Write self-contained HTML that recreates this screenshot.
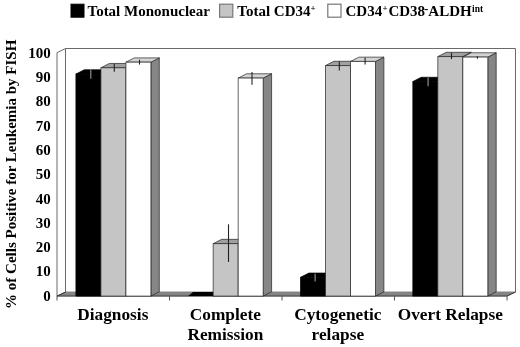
<!DOCTYPE html>
<html><head><meta charset="utf-8"><title>FISH chart</title>
<style>html,body{margin:0;padding:0;background:#fff;}svg{display:block;}text{font-family:"Liberation Serif",serif;font-weight:bold;fill:#000;}</style>
</head><body>
<svg width="520" height="347" viewBox="0 0 520 347">
<rect width="520" height="347" fill="#fff"/>
<g stroke="#6a6a6a" stroke-width="1" stroke-linejoin="round">
<polygon fill="#fff" points="65.5,48.5 515.5,48.5 515.5,292.1 65.5,292.1"/>
<polygon fill="#fff" points="57,52.7 65.5,48.5 65.5,292.1 57,296.1"/>
<polygon fill="#858585" stroke="none" points="57,296.1 65.5,292.1 515.5,292.1 507,296.1"/>
<polyline fill="none" stroke="#333" points="65.5,292.1 57,296.1 507,296.1 515.5,292.1"/>
</g>
<g stroke="#555" stroke-width="1">
<line x1="57" y1="296.1" x2="57" y2="300.5"/>
<line x1="169.5" y1="296.1" x2="169.5" y2="300.5"/>
<line x1="282" y1="296.1" x2="282" y2="300.5"/>
<line x1="394.5" y1="296.1" x2="394.5" y2="300.5"/>
<line x1="507" y1="296.1" x2="507" y2="300.5"/>
</g>
<g stroke="#222" stroke-width="0.7" stroke-linejoin="round">
<polygon fill="#000000" points="100.9,74.06 109.3,69.76 109.3,291.8 100.9,296.1"/>
<polygon fill="#606060" points="125.9,67.76 134.3,63.46 134.3,291.8 125.9,296.1"/>
<polygon fill="#868686" points="150.9,62.18 159.3,57.88 159.3,291.8 150.9,296.1"/>
<polygon fill="#000000" stroke="#000" points="75.9,74.06 84.3,69.76 109.3,69.76 100.9,74.06"/>
<rect fill="#000000" stroke="#000" x="75.9" y="74.06" width="25" height="222.04"/>
<polygon fill="#a0a0a0" points="100.9,67.76 109.3,63.46 134.3,63.46 125.9,67.76"/>
<rect fill="#c5c5c5" x="100.9" y="67.76" width="25" height="228.34"/>
<polygon fill="#d4d4d4" points="125.9,62.18 134.3,57.88 159.3,57.88 150.9,62.18"/>
<rect fill="#ffffff" x="125.9" y="62.18" width="25" height="233.92"/>
<polygon fill="#000000" points="213.2,295.44 221.6,291.14 221.6,291.8 213.2,296.1"/>
<polygon fill="#606060" points="238.2,243.64 246.6,239.34 246.6,291.8 238.2,296.1"/>
<polygon fill="#868686" points="263.2,78.07 271.6,73.77 271.6,291.8 263.2,296.1"/>
<polygon fill="#000" stroke="none" points="188.2,296 193,292 213.2,292 213.2,296"/>
<polygon fill="#a0a0a0" points="213.2,243.64 221.6,239.34 246.6,239.34 238.2,243.64"/>
<rect fill="#c5c5c5" x="213.2" y="243.64" width="25" height="52.46"/>
<polygon fill="#d4d4d4" points="238.2,78.07 246.6,73.77 271.6,73.77 263.2,78.07"/>
<rect fill="#ffffff" x="238.2" y="78.07" width="25" height="218.03"/>
<polygon fill="#000000" points="325.5,277.36 333.9,273.06 333.9,291.8 325.5,296.1"/>
<polygon fill="#606060" points="350.5,65.57 358.9,61.27 358.9,291.8 350.5,296.1"/>
<polygon fill="#868686" points="375.5,61.45 383.9,57.15 383.9,291.8 375.5,296.1"/>
<polygon fill="#000000" stroke="#000" points="300.5,277.36 308.9,273.06 333.9,273.06 325.5,277.36"/>
<rect fill="#000000" stroke="#000" x="300.5" y="277.36" width="25" height="18.74"/>
<polygon fill="#a0a0a0" points="325.5,65.57 333.9,61.27 358.9,61.27 350.5,65.57"/>
<rect fill="#c5c5c5" x="325.5" y="65.57" width="25" height="230.53"/>
<polygon fill="#d4d4d4" points="350.5,61.45 358.9,57.15 383.9,57.15 375.5,61.45"/>
<rect fill="#ffffff" x="350.5" y="61.45" width="25" height="234.65"/>
<polygon fill="#000000" points="437.8,81.58 446.2,77.28 446.2,291.8 437.8,296.1"/>
<polygon fill="#606060" points="462.8,56.6 471.2,52.3 471.2,291.8 462.8,296.1"/>
<polygon fill="#868686" points="487.8,57.08 496.2,52.78 496.2,291.8 487.8,296.1"/>
<polygon fill="#000000" stroke="#000" points="412.8,81.58 421.2,77.28 446.2,77.28 437.8,81.58"/>
<rect fill="#000000" stroke="#000" x="412.8" y="81.58" width="25" height="214.52"/>
<polygon fill="#a0a0a0" points="437.8,56.6 446.2,52.3 471.2,52.3 462.8,56.6"/>
<rect fill="#c5c5c5" x="437.8" y="56.6" width="25" height="239.5"/>
<polygon fill="#d4d4d4" points="462.8,57.08 471.2,52.78 496.2,52.78 487.8,57.08"/>
<rect fill="#ffffff" x="462.8" y="57.08" width="25" height="239.02"/>
</g>
<g stroke-width="1.1">
<line stroke="#999" x1="90.8" y1="69.6" x2="90.8" y2="78.8"/>
<line stroke="#222" x1="114.3" y1="63.8" x2="114.3" y2="71.8"/>
<line stroke="#222" x1="139.5" y1="59.8" x2="139.5" y2="64.6"/>
<line stroke="#222" x1="228.5" y1="224.3" x2="228.5" y2="262"/>
<line stroke="#222" x1="252" y1="72.1" x2="252" y2="84.8"/>
<line stroke="#999" x1="315.1" y1="273.8" x2="315.1" y2="281.5"/>
<line stroke="#222" x1="339.3" y1="61.2" x2="339.3" y2="70.6"/>
<line stroke="#222" x1="365.1" y1="57.4" x2="365.1" y2="64.6"/>
<line stroke="#999" x1="428.1" y1="77.5" x2="428.1" y2="86.2"/>
<line stroke="#222" x1="451.5" y1="52.9" x2="451.5" y2="59.1"/>
<line stroke="#222" x1="477.4" y1="56.2" x2="477.4" y2="58.8"/>
</g>
<g font-size="15" text-anchor="end">
<text x="50.7" y="300.7">0</text>
<text x="50.7" y="276.41">10</text>
<text x="50.7" y="252.13">20</text>
<text x="50.7" y="227.84">30</text>
<text x="50.7" y="203.56">40</text>
<text x="50.7" y="179.27">50</text>
<text x="50.7" y="154.99">60</text>
<text x="50.7" y="130.7">70</text>
<text x="50.7" y="106.42">80</text>
<text x="50.7" y="82.13">90</text>
<text x="50.7" y="57.85">100</text>
</g>
<text font-size="15" text-anchor="middle" transform="translate(16.4,174.3) rotate(-90)">% of Cells Positive for Leukemia by FISH</text>
<g font-size="17.3" text-anchor="middle">
<text x="112.85" y="319.9">Diagnosis</text>
<text x="225.35" y="319.9">Complete</text>
<text x="225.35" y="339.65">Remission</text>
<text x="337.85" y="319.9">Cytogenetic</text>
<text x="337.85" y="339.65">relapse</text>
<text x="450.35" y="319.9">Overt Relapse</text>
</g>
<g font-size="15">
<rect x="71" y="4.2" width="13" height="13" fill="#000" stroke="#000" stroke-width="1"/>
<text x="87.5" y="16.2">Total Mononuclear</text>
<rect x="219.6" y="4.2" width="13.2" height="13" fill="#c5c5c5" stroke="#777" stroke-width="1.2"/>
<text x="237.3" y="16.2">Total CD34<tspan font-size="9" x="310.6" y="11.1">+</tspan></text>
<rect x="327.8" y="4.2" width="13.2" height="13" fill="#fff" stroke="#777" stroke-width="1.2"/>
<text x="345.5" y="16.2">CD34<tspan font-size="9" x="382.5" y="11.1">+</tspan><tspan x="388.4" y="16.2">CD38</tspan><tspan font-size="13" x="423.9" y="12.7">-</tspan><tspan x="428.3" y="16.2">ALDH</tspan><tspan font-size="9.5" x="472" y="12">int</tspan></text>
</g>
</svg>
</body></html>
